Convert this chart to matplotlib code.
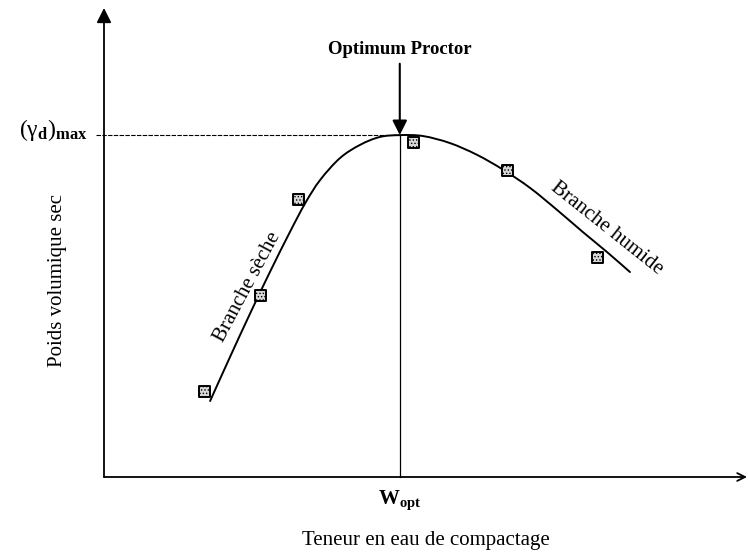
import matplotlib
matplotlib.use("Agg")
import matplotlib.pyplot as plt
from matplotlib.path import Path
from matplotlib.patches import PathPatch

plt.rcParams['font.family'] = ['Liberation Serif', 'DejaVu Serif']
plt.rcParams['mathtext.fontset'] = 'custom'
plt.rcParams['mathtext.rm'] = 'Liberation Serif'
plt.rcParams['mathtext.bf'] = 'Liberation Serif:bold'
plt.rcParams['mathtext.it'] = 'Liberation Serif:italic'
plt.rcParams['hatch.linewidth'] = 0.6

# courbe Proctor (unites arbitraires)
curve_w = [1.65, 1.96, 2.27, 2.58, 2.89, 3.13, 3.36, 3.67, 3.98, 4.29, 4.60,
           4.96, 5.38, 5.80, 6.21, 6.63, 7.05, 7.45, 7.82, 8.18]
curve_g = [1.62, 2.56, 3.48, 4.37, 5.22, 5.84, 6.33, 6.80, 7.08, 7.25, 7.29,
           7.27, 7.12, 6.87, 6.55, 6.16, 5.69, 5.22, 4.80, 4.37]

# points d'essai
pts_w = [1.57, 2.44, 3.03, 4.81, 6.28, 7.67]
pts_g = [1.83, 3.86, 5.91, 7.14, 6.53, 4.69]

w_opt = 4.60
g_max = 7.29

fig = plt.figure(figsize=(7.48, 5.52), dpi=100)
ax = fig.add_axes([104 / 748, 75 / 552, 643 / 748, 469 / 552])
ax.set_xlim(0, 10)
ax.set_ylim(0, 10)
ax.axis('off')

# axes avec fleches
ax.annotate('', xy=(0, 10), xytext=(0, 0),
            arrowprops=dict(arrowstyle='-|>', lw=1.3, color='black', mutation_scale=22,
                            shrinkA=0, shrinkB=0), annotation_clip=False)
ax.annotate('', xy=(10, 0), xytext=(0, 0),
            arrowprops=dict(arrowstyle='->', lw=1.3, color='black', mutation_scale=14,
                            shrinkA=0, shrinkB=0), annotation_clip=False)

# lignes de repere
ax.plot([-0.13, w_opt], [g_max, g_max], color='black', lw=0.8,
        linestyle=(0, (4, 1.2)), clip_on=False)
ax.plot([w_opt, w_opt], [0, g_max], color='black', lw=0.9, clip_on=False)

# courbe lissee (catmull-rom -> bezier) passant par les points lus
P = list(zip(curve_w, curve_g))
verts = [P[0]]
codes = [Path.MOVETO]
n = len(P)
for i in range(n - 1):
    p0 = P[i - 1] if i > 0 else P[i]
    p1 = P[i]
    p2 = P[i + 1]
    p3 = P[i + 2] if i + 2 < n else P[i + 1]
    c1 = (p1[0] + (p2[0] - p0[0]) / 6, p1[1] + (p2[1] - p0[1]) / 6)
    c2 = (p2[0] - (p3[0] - p1[0]) / 6, p2[1] - (p3[1] - p1[1]) / 6)
    verts += [c1, c2, p2]
    codes += [Path.CURVE4] * 3
ax.add_patch(PathPatch(Path(verts, codes), facecolor='none', edgecolor='black',
                       lw=1.4, capstyle='round', joinstyle='round', clip_on=False))

ax.scatter(pts_w, pts_g, marker='s', s=62, facecolor='#d8d8d8', edgecolor='black',
           hatch='.....', linewidths=1.4, clip_on=False, zorder=3)

# optimum
ax.annotate('Optimum Proctor', xy=(w_opt, g_max), xytext=(w_opt, 8.93),
            ha='center', va='bottom', fontsize=13.5, fontweight='bold',
            arrowprops=dict(arrowstyle='-|>', lw=1.5, color='black', mutation_scale=22,
                            shrinkA=2, shrinkB=0),
            annotation_clip=False)

ax.text(-0.26, g_max + 0.1, r'$\mathrm{(γ}_{\mathbf{d}}\mathrm{)}_{\mathbf{max}}$',
        ha='right', va='center', fontsize=17)
ax.text(w_opt, -0.25, r'$\mathbf{W}_{\mathbf{opt}}$', ha='center', va='top', fontsize=15)

ax.text(-0.72, 4.2, 'Poids volumique sec', rotation=90, ha='center', va='center',
        fontsize=15)
ax.text(5.0, -1.35, 'Teneur en eau de compactage', ha='center', va='center',
        fontsize=15)

ax.text(2.24, 4.05, 'Branche sèche', rotation=62, rotation_mode='anchor',
        ha='center', va='center', fontsize=15)
ax.text(7.82, 5.31, 'Branche humide', rotation=-38.5, rotation_mode='anchor',
        ha='center', va='center', fontsize=15)

fig.savefig('out.png', dpi=100)
